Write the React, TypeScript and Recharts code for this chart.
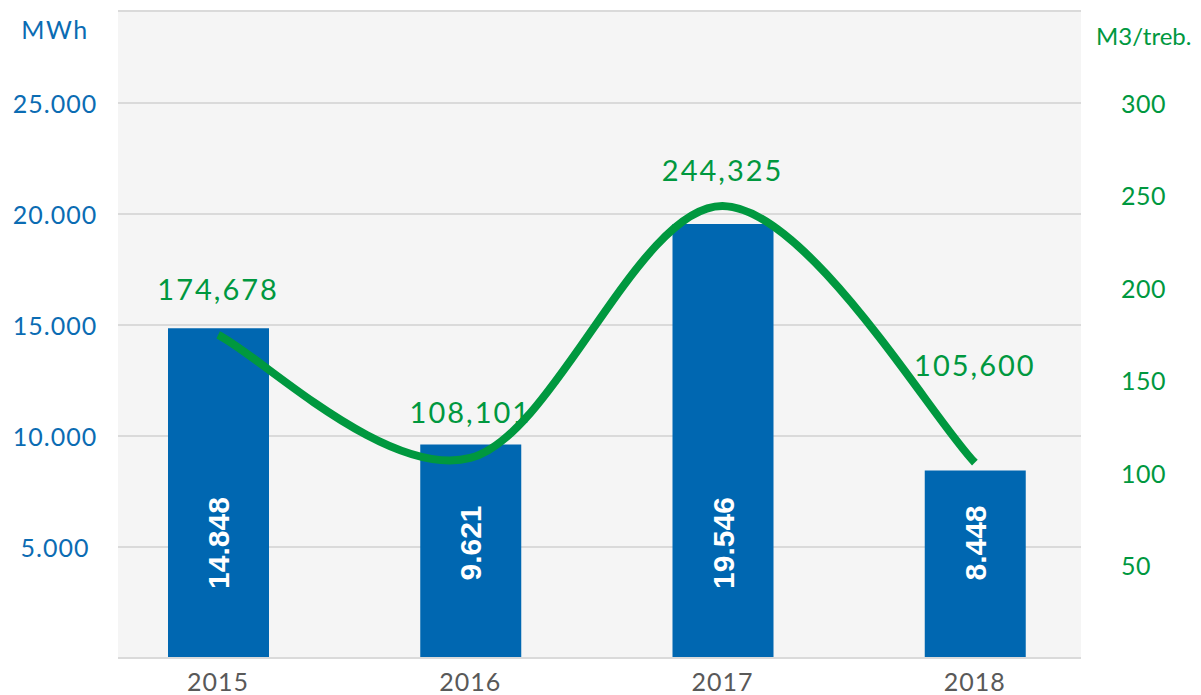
import React from 'react';
import { ComposedChart, Bar, Line, XAxis, YAxis, CartesianGrid, LabelList, Customized } from 'recharts';

const categories = ['2015', '2016', '2017', '2018'];
const energyMWh = [14848, 9621, 19546, 8448];
const waterM3 = [174.678, 108.101, 244.325, 105.6];
const leftTicks = [5000, 10000, 15000, 20000, 25000];
const rightTicks = [50, 100, 150, 200, 250, 300];

const data = categories.map((c, i) => ({ year: c, mwh: energyMWh[i], m3: waterM3[i] }));

const BLUE = '#0067b1';
const BLUE_TXT = '#0b6cb3';
const GREEN = '#00983f';
const GRID = '#dadada';
const FONT = 'Lato, "Open Sans", sans-serif';

// vertical lift of each line label above its point (manual placement in the original)
const lineLabelLift = [46, 46, 36, 98];

const fmtThousands = (v: number) => String(v).replace(/\B(?=(\d{3})+(?!\d))/g, '.');
const fmtDecimal = (v: number) => v.toFixed(3).replace('.', ',');

// Excel-like smoothed line (Catmull-Rom style Bezier through the points)
const smoothCurve = (context: any) => {
  let pts: number[][] = [];
  return {
    areaStart() {},
    areaEnd() {},
    lineStart() {
      pts = [];
    },
    point(x: number, y: number) {
      pts.push([+x, +y]);
    },
    lineEnd() {
      const n = pts.length;
      if (!n) return;
      context.moveTo(pts[0][0], pts[0][1]);
      for (let i = 0; i < n - 1; i++) {
        const p0 = pts[Math.max(i - 1, 0)];
        const p1 = pts[i];
        const p2 = pts[i + 1];
        const p3 = pts[Math.min(i + 2, n - 1)];
        context.bezierCurveTo(
          p1[0] + (p2[0] - p0[0]) / 6,
          p1[1] + (p2[1] - p0[1]) / 6,
          p2[0] - (p3[0] - p1[0]) / 6,
          p2[1] - (p3[1] - p1[1]) / 6,
          p2[0],
          p2[1]
        );
      }
    },
  };
};

const LeftTick = (props: any) => {
  const { y, payload } = props;
  return (
    <text x={55} y={y} textAnchor="middle" dominantBaseline="central" fill={BLUE_TXT} fontFamily={FONT} fontSize={25} letterSpacing={1}>
      {fmtThousands(payload.value)}
    </text>
  );
};

const RightTick = (props: any) => {
  const { y, payload } = props;
  return (
    <text x={1121} y={y} textAnchor="start" dominantBaseline="central" fill={GREEN} fontFamily={FONT} fontSize={25} letterSpacing={0.5}>
      {payload.value}
    </text>
  );
};

const BottomTick = (props: any) => {
  const { x, payload } = props;
  return (
    <text x={x} y={681} textAnchor="middle" dominantBaseline="central" fill="#595959" fontFamily={FONT} fontSize={25} letterSpacing={1}>
      {payload.value}
    </text>
  );
};

const BarValueLabel = (props: any) => {
  const { x, y, width, height, value } = props;
  const cx = x + width / 2;
  const cy = y + height - 115;
  return (
    <text
      x={cx}
      y={cy}
      transform={`rotate(-90 ${cx} ${cy})`}
      textAnchor="middle"
      dominantBaseline="central"
      fill="#ffffff"
      fontFamily='"Liberation Sans", Arial, sans-serif'
      fontWeight="bold"
      fontSize={30}
    >
      {fmtThousands(value)}
    </text>
  );
};

const LineValueLabel = (props: any) => {
  const { x, y, value, index } = props;
  return (
    <text x={x} y={y - lineLabelLift[index]} textAnchor="middle" dominantBaseline="central" fill={GREEN} fontFamily={FONT} fontSize={29} letterSpacing={2}>
      {fmtDecimal(value)}
    </text>
  );
};

const AxisTitles = () => (
  <g>
    <text x={55} y={29} textAnchor="middle" dominantBaseline="central" fill={BLUE_TXT} fontFamily={FONT} fontSize={25} letterSpacing={1.5}>
      MWh
    </text>
    <text x={1096} y={35} textAnchor="start" dominantBaseline="central" fill={GREEN} fontFamily={FONT} fontSize={24}>
      M3/treb.
    </text>
  </g>
);

export default function App() {
  return (
    <div style={{ position: 'absolute', left: 0, top: 0, width: 1201, height: 695, background: '#ffffff' }}>
      <ComposedChart width={1201} height={695} data={data} margin={{ top: 11, right: 0, bottom: 0, left: 0 }} barSize={101}>
        <CartesianGrid yAxisId="left" vertical={false} horizontal stroke={GRID} strokeWidth={2} fill="#f5f5f5" fillOpacity={1} />
        <XAxis
          dataKey="year"
          height={37}
          padding={{ left: -26, right: -20 }}
          axisLine={{ stroke: GRID, strokeWidth: 2 }}
          tickLine={false}
          tick={<BottomTick />}
          interval={0}
        />
        <YAxis
          yAxisId="left"
          orientation="left"
          width={118}
          domain={[0, 29144]}
          ticks={leftTicks}
          allowDataOverflow
          axisLine={false}
          tickLine={false}
          tick={<LeftTick />}
          interval={0}
        />
        <YAxis
          yAxisId="right"
          orientation="right"
          width={120}
          domain={[0, 349.7]}
          ticks={rightTicks}
          allowDataOverflow
          axisLine={false}
          tickLine={false}
          tick={<RightTick />}
          interval={0}
        />
        <Bar yAxisId="left" dataKey="mwh" fill={BLUE} isAnimationActive={false}>
          <LabelList dataKey="mwh" content={<BarValueLabel />} />
        </Bar>
        <Line
          yAxisId="right"
          type={smoothCurve as any}
          dataKey="m3"
          stroke={GREEN}
          strokeWidth={8}
          dot={false}
          activeDot={false}
          isAnimationActive={false}
        >
          <LabelList dataKey="m3" content={<LineValueLabel />} />
        </Line>
        <Customized component={AxisTitles} />
      </ComposedChart>
    </div>
  );
}
